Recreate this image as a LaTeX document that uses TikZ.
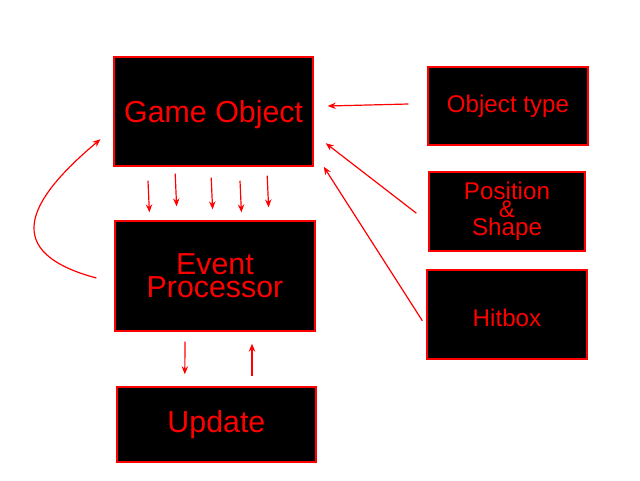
\documentclass[tikz,border=0pt]{standalone}
\usepackage{fontspec}
\setsansfont{Liberation Sans}
\usetikzlibrary{arrows.meta}

\begin{document}
\begin{tikzpicture}[
        every node/.style={font=\sffamily, text=red},
        block/.style={rectangle, draw=red, fill=black, line width=0.9pt, inner sep=2pt, align=center, font=\sffamily\fontsize{21.6}{16.4}\selectfont},
        side/.style={rectangle, draw=red, fill=black, line width=0.9pt, inner sep=2pt, align=center, font=\sffamily\fontsize{17.2}{12.8}\selectfont},
        link/.style={-{Stealth[length=2mm, width=1.6mm]}, red, line width=0.85pt}
    ]
%
    \useasboundingbox (0, 0) rectangle (16, -12);
%
    % Main blocks
    \node[block, minimum width=4.975cm, minimum height=2.725cm, text depth=0pt] (game) at (5.34, -2.79) {Game Object};
    \node[block, minimum width=5cm, minimum height=2.75cm] (event) at (5.375, -6.9) {Event\\Processor};
    \node[block, minimum width=4.975cm, minimum height=1.875cm] (update) at (5.41, -10.61) {Update};
%
    % Inputs
    \node[side, minimum width=4cm, minimum height=1.95cm] (otype) at (12.7, -2.65) {Object type};
    \node[side, minimum width=3.9cm, minimum height=1.975cm] (pos) at (12.675, -5.29) {Position\\\&\\Shape};
    \node[side, minimum width=4cm, minimum height=2.225cm, text height=0.6cm, text depth=0pt] (hitbox) at (12.675, -7.86) {Hitbox};
%
    % Inputs into the game object
    \draw[link] ([xshift=-0.475cm, yshift=0.05cm]otype.west) -- ([xshift=0.35cm, yshift=0.14cm]game.east);
    \draw[link] ([xshift=-0.3cm, yshift=-0.04cm]pos.west) -- ([xshift=0.3cm, yshift=-0.79cm]game.east);
    \draw[link] ([xshift=-0.1cm, yshift=-0.16cm]hitbox.west) -- ([xshift=0.25cm]game.south east);
%
    % Game object to event processor
    \foreach \x/\a/\b in {-1.64/0.35/0.2, -0.96/0.175/0.35, -0.06/0.275/0.275, 0.66/0.35/0.2, 1.34/0.225/0.325} {
        \draw[link] ([xshift=\x cm, yshift=-\a cm]game.south) -- ([xshift=\x cm, yshift=\b cm]event.north);
    }
%
    % Loop back
    \draw[link] ([xshift=-0.45cm, yshift=-0.05cm]event.west) to[out=165, in=220, distance=2.45cm] ([xshift=-0.325cm, yshift=-0.69cm]game.west);
%
    % Event processor and update
    \draw[link] ([xshift=-0.75cm, yshift=-0.25cm]event.south) -- ([xshift=-0.79cm, yshift=0.3cm]update.north);
    \draw[link] ([xshift=0.89cm, yshift=0.25cm]update.north) -- ([xshift=0.925cm, yshift=-0.3cm]event.south);
%
\end{tikzpicture}
\end{document}
